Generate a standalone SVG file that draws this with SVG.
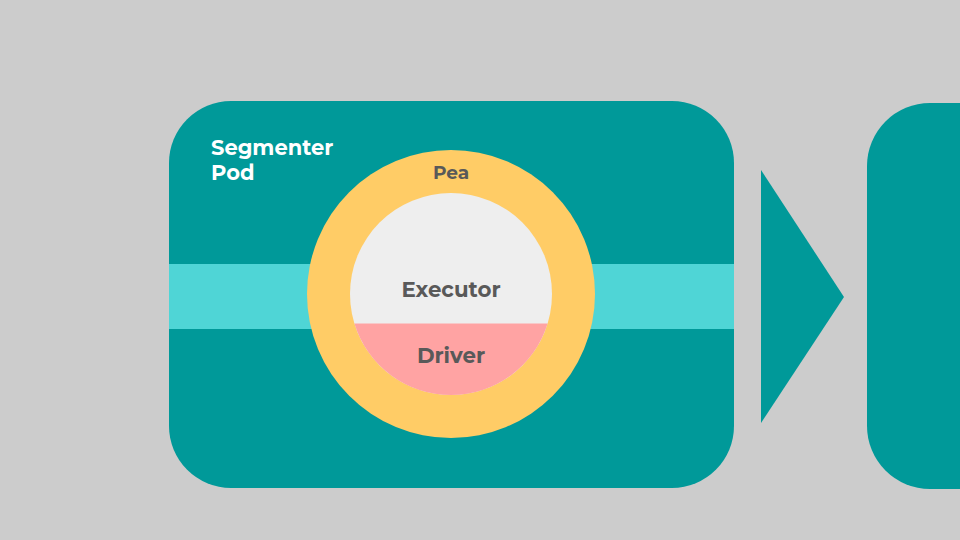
<svg xmlns="http://www.w3.org/2000/svg" width="960" height="540" viewBox="0 0 960 540">
<style>
.teal{fill:#009999}
.lbl{font-family:"Montserrat","Open Sans","Liberation Sans",sans-serif;font-weight:700;text-anchor:middle;fill:#595959}
.title{font-family:"Montserrat","Open Sans","Liberation Sans",sans-serif;font-weight:700;fill:#ffffff;font-size:21px}
</style>
<rect x="0" y="0" width="960" height="540" fill="#cccccc"/>
<g id="segmenter-pod">
<rect class="teal" x="169" y="101" width="565" height="387" rx="62" ry="62"/>
<rect x="169" y="264" width="565" height="65" fill="#4fd5d6"/>
<text class="title" x="211" y="155">Segmenter</text>
<text class="title" x="211" y="180">Pod</text>
</g>
<g id="pea">
<circle cx="451" cy="294" r="144" fill="#ffcc66"/>
<text class="lbl" x="451" y="179" font-size="18.5">Pea</text>
</g>
<g id="executor">
<circle cx="451" cy="294" r="101" fill="#eeeeee"/>
<text class="lbl" x="451" y="297" font-size="21.3">Executor</text>
</g>
<g id="driver">
<path d="M354.4 323.5 A101 101 0 0 0 547.6 323.5 Z" fill="#ffa3a3"/>
<text class="lbl" x="451" y="363" font-size="21.3">Driver</text>
</g>
<g id="connectors">
<polygon class="teal" points="761,170 844,297 761,423"/>
</g>
<g id="next-pod">
<rect class="teal" x="867" y="103" width="160" height="386" rx="63" ry="63"/>
</g>
</svg>
